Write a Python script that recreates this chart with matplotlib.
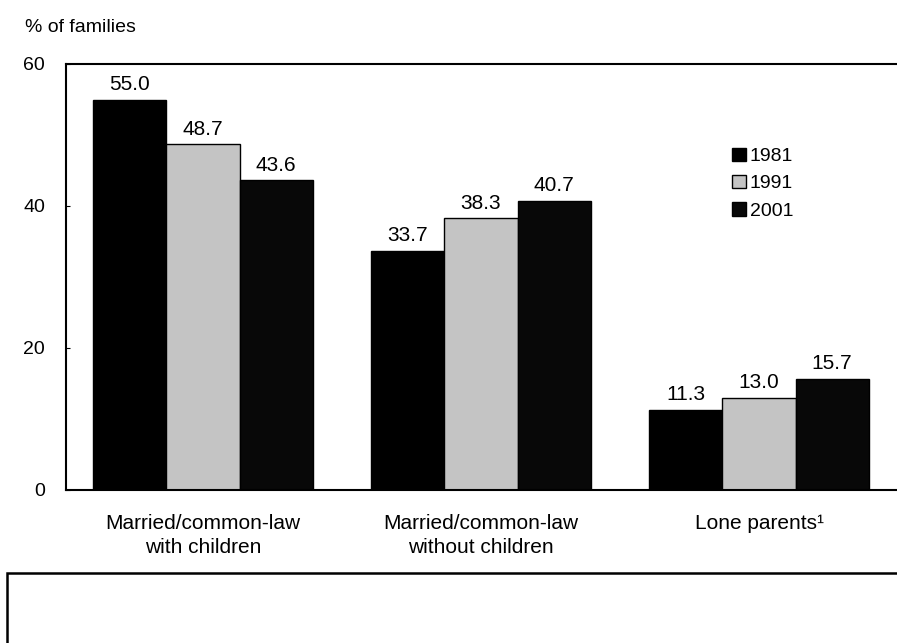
import numpy as np
import matplotlib.pyplot as plt
from matplotlib.patches import Rectangle

plt.rcParams['font.family'] = ['Liberation Sans', 'DejaVu Sans']

# dane
kategorie = ['Married/common-law\nwith children', 'Married/common-law\nwithout children', 'Lone parents\u00b9']
lata = ['1981', '1991', '2001']
w1981 = [55.0, 33.7, 11.3]
w1991 = [48.7, 38.3, 13.0]
w2001 = [43.6, 40.7, 15.7]

kolory = ['#000000', '#c4c4c4', '#080808']
serie = [w1981, w1991, w2001]

fig = plt.figure(figsize=(8.97, 6.43), dpi=100)
ax = fig.add_axes([66 / 897, 153 / 643, 834 / 897, 426 / 643])

x = np.arange(len(kategorie))
szer = 0.263
for i, (wart, kol, rok) in enumerate(zip(serie, kolory, lata)):
    pos = x + (i - 1) * szer
    bars = ax.bar(pos, wart, szer, color=kol, edgecolor='black', linewidth=1.0, label=rok)
    for b, v in zip(bars, wart):
        ax.annotate(f'{v:.1f}', (b.get_x() + b.get_width() / 2, v), xytext=(0, 4),
                    textcoords='offset points', ha='center', va='bottom', fontsize=15)

ax.set_xlim(-0.493, -0.493 + 834 / 278)
ax.set_ylim(0, 60)
ax.set_yticks([0, 20, 40, 60])
ax.tick_params(axis='y', direction='in', length=3, labelsize=14, pad=15)
ax.set_xticks(x)
ax.set_xticklabels(kategorie, fontsize=15, linespacing=1.35)
ax.tick_params(axis='x', length=0, pad=17)
for s in ax.spines.values():
    s.set_linewidth(1.5)

ax.legend(loc='upper left', bbox_to_anchor=(0.778, 0.845), frameon=False, fontsize=14,
          handlelength=0.7, handleheight=0.7, handletextpad=0.2, labelspacing=0.5)

fig.text(25 / 897, 1 - 27 / 643, '% of families', fontsize=14, va='center', ha='left')

# pusta ramka pod wykresem
fig.patches.append(Rectangle((7 / 897, -0.05), 1.0, (643 - 573) / 643 + 0.05,
                             transform=fig.transFigure, fill=False, edgecolor='black', linewidth=1.8))

fig.savefig('out.png', dpi=100)
